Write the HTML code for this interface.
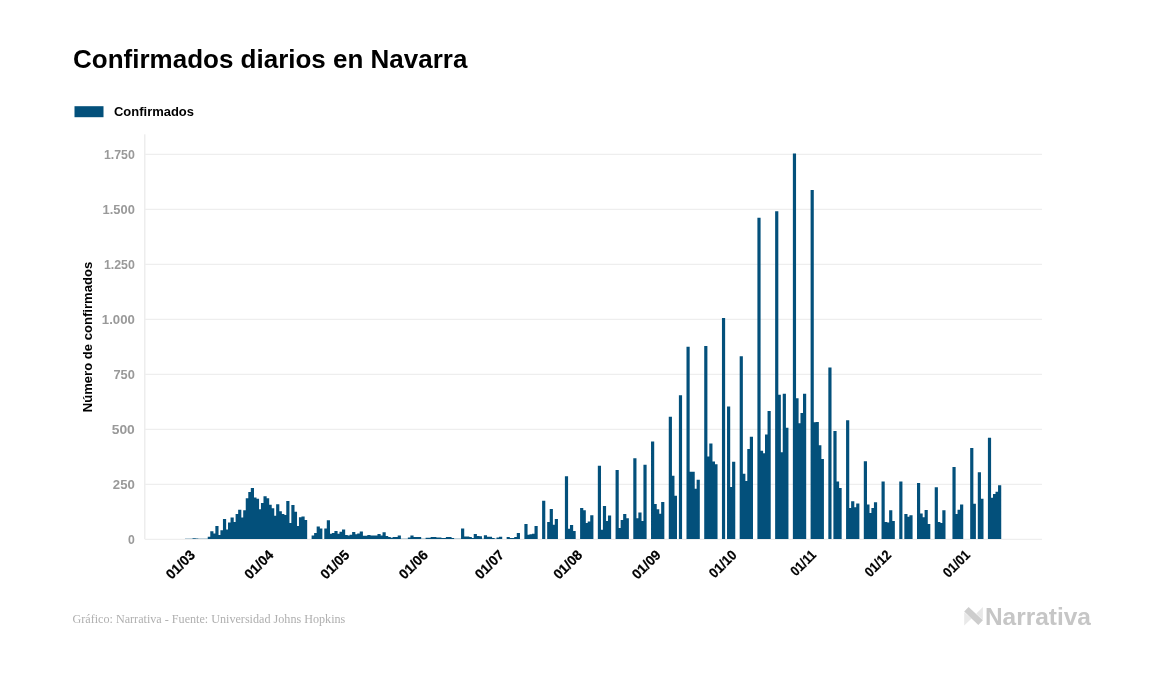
<!DOCTYPE html>
<html lang="es"><head><meta charset="utf-8"><title>Confirmados diarios en Navarra</title>
<style>
html,body{margin:0;padding:0;background:#fff;}
body{width:1157px;height:674px;overflow:hidden;position:relative;font-family:"Liberation Sans",sans-serif;}
svg{position:absolute;left:0;top:0;display:block}
.title{font:bold 26.5px "Liberation Sans",sans-serif;fill:#000;}
.leg{font:bold 12.6px "Liberation Sans",sans-serif;fill:#000;}
.yl{font:bold 12px "Liberation Sans",sans-serif;fill:#999;}
.xl{font:bold 13.8px "Liberation Sans",sans-serif;fill:#000;stroke:#000;stroke-width:0.22px;}
.yt{font:bold 12.4px "Liberation Sans",sans-serif;fill:#000;}
.foot{font:11.8px "Liberation Serif",serif;fill:#afafaf;}
.brand{font:bold 24.2px "Liberation Sans",sans-serif;fill:#c6c6c6;}
</style></head><body>
<svg width="1157" height="674" viewBox="0 0 1157 674">
<rect width="1157" height="674" fill="#fff"/>
<text class="title" x="73.1" y="67.7" textLength="394.3" lengthAdjust="spacingAndGlyphs">Confirmados diarios en Navarra</text>
<rect x="74.5" y="106.2" width="29" height="11" fill="#03507b"/>
<text class="leg" x="114" y="116.3" textLength="80" lengthAdjust="spacingAndGlyphs">Confirmados</text>
<rect x="144.2" y="134.3" width="1.2" height="405" fill="#e9e9e9"/>
<rect x="145" y="538.75" width="897" height="1.3" fill="#eeeeee"/><rect x="145" y="483.75" width="897" height="1.3" fill="#eeeeee"/><rect x="145" y="428.75" width="897" height="1.3" fill="#eeeeee"/><rect x="145" y="373.75" width="897" height="1.3" fill="#eeeeee"/><rect x="145" y="318.75" width="897" height="1.3" fill="#eeeeee"/><rect x="145" y="263.75" width="897" height="1.3" fill="#eeeeee"/><rect x="145" y="208.75" width="897" height="1.3" fill="#eeeeee"/><rect x="145" y="153.75" width="897" height="1.3" fill="#eeeeee"/>
<text x="134.8" y="543.95" text-anchor="end" class="yl" textLength="6.8" lengthAdjust="spacingAndGlyphs">0</text><text x="134.8" y="488.95" text-anchor="end" class="yl" textLength="22.0" lengthAdjust="spacingAndGlyphs">250</text><text x="134.8" y="433.95" text-anchor="end" class="yl" textLength="23.1" lengthAdjust="spacingAndGlyphs">500</text><text x="134.8" y="378.95" text-anchor="end" class="yl" textLength="21.4" lengthAdjust="spacingAndGlyphs">750</text><text x="134.8" y="323.95" text-anchor="end" class="yl" textLength="33.0" lengthAdjust="spacingAndGlyphs">1.000</text><text x="134.8" y="268.95" text-anchor="end" class="yl" textLength="30.9" lengthAdjust="spacingAndGlyphs">1.250</text><text x="134.8" y="213.95" text-anchor="end" class="yl" textLength="32.2" lengthAdjust="spacingAndGlyphs">1.500</text><text x="134.8" y="158.95" text-anchor="end" class="yl" textLength="30.9" lengthAdjust="spacingAndGlyphs">1.750</text>
<text class="yt" text-anchor="middle" transform="translate(92.3,337) rotate(-90)" textLength="150.5" lengthAdjust="spacingAndGlyphs">Número de confirmados</text>
<path fill="#03507b" d="M184.95 539.00V538.75h3.183V539.00zM187.49 539.00V538.75h3.183V539.00zM190.02 539.00V538.75h3.183V539.00zM192.55 539.00V538.20h3.183V539.00zM195.09 539.00V538.45h3.183V539.00zM197.62 539.00V538.75h3.183V539.00zM200.15 539.00V538.75h3.183V539.00zM202.68 539.00V538.75h3.183V539.00zM205.22 539.00V538.75h3.183V539.00zM207.75 539.00V536.80h3.183V539.00zM210.28 539.00V531.20h3.183V539.00zM212.82 539.00V533.40h3.183V539.00zM215.35 539.00V526.00h3.183V539.00zM217.88 539.00V535.10h3.183V539.00zM220.41 539.00V530.20h3.183V539.00zM222.95 539.00V519.00h3.183V539.00zM225.48 539.00V529.50h3.183V539.00zM228.01 539.00V522.60h3.183V539.00zM230.55 539.00V517.40h3.183V539.00zM233.08 539.00V522.10h3.183V539.00zM235.61 539.00V514.10h3.183V539.00zM238.15 539.00V509.80h3.183V539.00zM240.68 539.00V517.60h3.183V539.00zM243.21 539.00V510.30h3.183V539.00zM245.75 539.00V498.20h3.183V539.00zM248.28 539.00V491.90h3.183V539.00zM250.81 539.00V488.00h3.183V539.00zM253.34 539.00V497.50h3.183V539.00zM255.88 539.00V498.80h3.183V539.00zM258.41 539.00V509.20h3.183V539.00zM260.94 539.00V503.10h3.183V539.00zM263.48 539.00V496.20h3.183V539.00zM266.01 539.00V498.20h3.183V539.00zM268.54 539.00V504.70h3.183V539.00zM271.07 539.00V508.30h3.183V539.00zM273.61 539.00V515.70h3.183V539.00zM276.14 539.00V504.30h3.183V539.00zM278.67 539.00V511.20h3.183V539.00zM281.21 539.00V514.10h3.183V539.00zM283.74 539.00V515.00h3.183V539.00zM286.27 539.00V501.00h3.183V539.00zM288.81 539.00V523.00h3.183V539.00zM291.34 539.00V505.10h3.183V539.00zM293.87 539.00V511.80h3.183V539.00zM296.41 539.00V525.90h3.183V539.00zM298.94 539.00V517.20h3.183V539.00zM301.47 539.00V516.40h3.183V539.00zM304.00 539.00V520.00h3.183V539.00zM311.60 539.00V535.40h3.183V539.00zM314.14 539.00V533.00h3.183V539.00zM316.67 539.00V526.50h3.183V539.00zM319.20 539.00V528.50h3.183V539.00zM324.27 539.00V528.50h3.183V539.00zM326.80 539.00V520.20h3.183V539.00zM329.33 539.00V533.80h3.183V539.00zM331.87 539.00V533.00h3.183V539.00zM334.40 539.00V531.00h3.183V539.00zM336.93 539.00V533.80h3.183V539.00zM339.47 539.00V531.70h3.183V539.00zM342.00 539.00V529.50h3.183V539.00zM344.53 539.00V535.10h3.183V539.00zM347.06 539.00V535.40h3.183V539.00zM349.60 539.00V534.70h3.183V539.00zM352.13 539.00V532.10h3.183V539.00zM354.66 539.00V534.20h3.183V539.00zM357.20 539.00V533.40h3.183V539.00zM359.73 539.00V531.50h3.183V539.00zM362.26 539.00V535.70h3.183V539.00zM364.80 539.00V535.70h3.183V539.00zM367.33 539.00V535.10h3.183V539.00zM369.86 539.00V535.40h3.183V539.00zM372.39 539.00V535.40h3.183V539.00zM374.93 539.00V535.40h3.183V539.00zM377.46 539.00V534.00h3.183V539.00zM379.99 539.00V535.40h3.183V539.00zM382.53 539.00V532.30h3.183V539.00zM385.06 539.00V535.90h3.183V539.00zM387.59 539.00V537.10h3.183V539.00zM390.13 539.00V537.80h3.183V539.00zM392.66 539.00V537.10h3.183V539.00zM395.19 539.00V537.10h3.183V539.00zM397.72 539.00V535.40h3.183V539.00zM400.26 539.00V538.70h3.183V539.00zM402.79 539.00V538.70h3.183V539.00zM405.32 539.00V538.70h3.183V539.00zM407.86 539.00V537.50h3.183V539.00zM410.39 539.00V535.40h3.183V539.00zM412.92 539.00V537.10h3.183V539.00zM415.46 539.00V537.10h3.183V539.00zM417.99 539.00V537.10h3.183V539.00zM420.52 539.00V538.70h3.183V539.00zM423.06 539.00V538.70h3.183V539.00zM425.59 539.00V537.80h3.183V539.00zM428.12 539.00V537.80h3.183V539.00zM430.65 539.00V537.00h3.183V539.00zM433.19 539.00V537.00h3.183V539.00zM435.72 539.00V537.50h3.183V539.00zM438.25 539.00V537.50h3.183V539.00zM440.79 539.00V538.00h3.183V539.00zM443.32 539.00V538.00h3.183V539.00zM445.85 539.00V537.10h3.183V539.00zM448.38 539.00V537.10h3.183V539.00zM450.92 539.00V538.00h3.183V539.00zM453.45 539.00V538.80h3.183V539.00zM455.98 539.00V538.80h3.183V539.00zM458.52 539.00V538.80h3.183V539.00zM461.05 539.00V528.40h3.183V539.00zM463.58 539.00V536.40h3.183V539.00zM466.12 539.00V536.40h3.183V539.00zM468.65 539.00V537.00h3.183V539.00zM471.18 539.00V538.00h3.183V539.00zM473.71 539.00V534.00h3.183V539.00zM476.25 539.00V536.00h3.183V539.00zM478.78 539.00V536.30h3.183V539.00zM481.31 539.00V538.70h3.183V539.00zM483.85 539.00V535.30h3.183V539.00zM486.38 539.00V536.80h3.183V539.00zM488.91 539.00V536.80h3.183V539.00zM491.45 539.00V538.10h3.183V539.00zM493.98 539.00V538.80h3.183V539.00zM496.51 539.00V537.50h3.183V539.00zM499.05 539.00V536.80h3.183V539.00zM506.64 539.00V537.10h3.183V539.00zM509.18 539.00V538.10h3.183V539.00zM511.71 539.00V538.10h3.183V539.00zM514.24 539.00V537.10h3.183V539.00zM516.78 539.00V533.00h3.183V539.00zM524.38 539.00V523.90h3.183V539.00zM526.91 539.00V534.70h3.183V539.00zM529.44 539.00V534.20h3.183V539.00zM531.97 539.00V533.70h3.183V539.00zM534.51 539.00V525.90h3.183V539.00zM542.11 539.00V500.80h3.183V539.00zM547.17 539.00V522.00h3.183V539.00zM549.71 539.00V509.10h3.183V539.00zM552.24 539.00V524.70h3.183V539.00zM554.77 539.00V518.90h3.183V539.00zM564.90 539.00V476.30h3.183V539.00zM567.44 539.00V528.80h3.183V539.00zM569.97 539.00V525.10h3.183V539.00zM572.50 539.00V531.10h3.183V539.00zM580.10 539.00V508.00h3.183V539.00zM582.63 539.00V510.30h3.183V539.00zM585.17 539.00V523.00h3.183V539.00zM587.70 539.00V521.40h3.183V539.00zM590.23 539.00V515.20h3.183V539.00zM597.83 539.00V465.80h3.183V539.00zM600.37 539.00V529.70h3.183V539.00zM602.90 539.00V506.10h3.183V539.00zM605.43 539.00V520.90h3.183V539.00zM607.96 539.00V515.50h3.183V539.00zM615.56 539.00V470.10h3.183V539.00zM618.10 539.00V528.10h3.183V539.00zM620.63 539.00V520.00h3.183V539.00zM623.16 539.00V514.10h3.183V539.00zM625.70 539.00V518.30h3.183V539.00zM633.29 539.00V458.30h3.183V539.00zM635.83 539.00V518.30h3.183V539.00zM638.36 539.00V512.40h3.183V539.00zM640.89 539.00V521.10h3.183V539.00zM643.43 539.00V464.70h3.183V539.00zM651.03 539.00V441.50h3.183V539.00zM653.56 539.00V504.00h3.183V539.00zM656.09 539.00V509.20h3.183V539.00zM658.62 539.00V513.80h3.183V539.00zM661.16 539.00V502.00h3.183V539.00zM668.76 539.00V416.80h3.183V539.00zM671.29 539.00V475.70h3.183V539.00zM673.82 539.00V495.70h3.183V539.00zM678.89 539.00V395.20h3.183V539.00zM686.49 539.00V346.80h3.183V539.00zM689.02 539.00V471.80h3.183V539.00zM691.55 539.00V471.80h3.183V539.00zM694.09 539.00V488.70h3.183V539.00zM696.62 539.00V479.80h3.183V539.00zM704.22 539.00V346.05h3.183V539.00zM706.75 539.00V456.40h3.183V539.00zM709.28 539.00V443.50h3.183V539.00zM711.82 539.00V461.40h3.183V539.00zM714.35 539.00V464.20h3.183V539.00zM721.95 539.00V317.90h3.183V539.00zM727.02 539.00V406.40h3.183V539.00zM729.55 539.00V487.10h3.183V539.00zM732.08 539.00V461.70h3.183V539.00zM739.68 539.00V356.20h3.183V539.00zM742.21 539.00V473.80h3.183V539.00zM744.75 539.00V480.90h3.183V539.00zM747.28 539.00V449.00h3.183V539.00zM749.81 539.00V436.70h3.183V539.00zM757.41 539.00V217.70h3.183V539.00zM759.94 539.00V450.80h3.183V539.00zM762.48 539.00V453.20h3.183V539.00zM765.01 539.00V434.60h3.183V539.00zM767.54 539.00V410.90h3.183V539.00zM775.14 539.00V211.20h3.183V539.00zM777.67 539.00V394.80h3.183V539.00zM780.21 539.00V452.20h3.183V539.00zM782.74 539.00V393.70h3.183V539.00zM785.27 539.00V427.80h3.183V539.00zM792.87 539.00V153.40h3.183V539.00zM795.41 539.00V398.20h3.183V539.00zM797.94 539.00V423.30h3.183V539.00zM800.47 539.00V413.10h3.183V539.00zM803.01 539.00V393.70h3.183V539.00zM810.60 539.00V190.10h3.183V539.00zM813.14 539.00V422.30h3.183V539.00zM815.67 539.00V422.10h3.183V539.00zM818.20 539.00V445.30h3.183V539.00zM820.74 539.00V458.90h3.183V539.00zM828.34 539.00V367.60h3.183V539.00zM833.40 539.00V431.00h3.183V539.00zM835.93 539.00V481.40h3.183V539.00zM838.47 539.00V488.10h3.183V539.00zM846.07 539.00V420.30h3.183V539.00zM848.60 539.00V507.90h3.183V539.00zM851.13 539.00V501.30h3.183V539.00zM853.66 539.00V507.20h3.183V539.00zM856.20 539.00V503.40h3.183V539.00zM863.80 539.00V461.30h3.183V539.00zM866.33 539.00V504.50h3.183V539.00zM868.86 539.00V513.10h3.183V539.00zM871.40 539.00V507.90h3.183V539.00zM873.93 539.00V502.20h3.183V539.00zM881.53 539.00V481.40h3.183V539.00zM884.06 539.00V521.90h3.183V539.00zM886.59 539.00V522.60h3.183V539.00zM889.13 539.00V510.30h3.183V539.00zM891.66 539.00V521.10h3.183V539.00zM899.26 539.00V481.40h3.183V539.00zM904.33 539.00V514.10h3.183V539.00zM906.86 539.00V516.70h3.183V539.00zM909.39 539.00V515.20h3.183V539.00zM916.99 539.00V483.00h3.183V539.00zM919.52 539.00V513.50h3.183V539.00zM922.06 539.00V517.20h3.183V539.00zM924.59 539.00V509.90h3.183V539.00zM927.12 539.00V524.00h3.183V539.00zM934.72 539.00V487.30h3.183V539.00zM937.25 539.00V521.90h3.183V539.00zM939.79 539.00V523.00h3.183V539.00zM942.32 539.00V510.20h3.183V539.00zM952.45 539.00V467.10h3.183V539.00zM954.99 539.00V514.10h3.183V539.00zM957.52 539.00V509.80h3.183V539.00zM960.05 539.00V504.50h3.183V539.00zM970.18 539.00V447.90h3.183V539.00zM972.72 539.00V503.70h3.183V539.00zM977.78 539.00V472.30h3.183V539.00zM980.32 539.00V498.80h3.183V539.00zM987.91 539.00V437.80h3.183V539.00zM990.45 539.00V497.70h3.183V539.00zM992.98 539.00V494.10h3.183V539.00zM995.51 539.00V491.70h3.183V539.00zM998.05 539.00V485.30h3.183V539.00z"/>
<text class="xl" text-anchor="end" transform="translate(195.9,555.8) rotate(-45)" textLength="34.4" lengthAdjust="spacingAndGlyphs">01/03</text><text class="xl" text-anchor="end" transform="translate(274.3,555.8) rotate(-45)" textLength="34.4" lengthAdjust="spacingAndGlyphs">01/04</text><text class="xl" text-anchor="end" transform="translate(350.4,555.8) rotate(-45)" textLength="34.4" lengthAdjust="spacingAndGlyphs">01/05</text><text class="xl" text-anchor="end" transform="translate(428.9,555.8) rotate(-45)" textLength="34.4" lengthAdjust="spacingAndGlyphs">01/06</text><text class="xl" text-anchor="end" transform="translate(504.8,555.8) rotate(-45)" textLength="34.4" lengthAdjust="spacingAndGlyphs">01/07</text><text class="xl" text-anchor="end" transform="translate(583.2,555.8) rotate(-45)" textLength="34.4" lengthAdjust="spacingAndGlyphs">01/08</text><text class="xl" text-anchor="end" transform="translate(661.7,555.8) rotate(-45)" textLength="34.4" lengthAdjust="spacingAndGlyphs">01/09</text><text class="xl" text-anchor="end" transform="translate(737.6,555.8) rotate(-45)" textLength="32.6" lengthAdjust="spacingAndGlyphs">01/10</text><text class="xl" text-anchor="end" transform="translate(816.9,555.8) rotate(-45)" textLength="29.5" lengthAdjust="spacingAndGlyphs">01/11</text><text class="xl" text-anchor="end" transform="translate(892.0,555.8) rotate(-45)" textLength="30.9" lengthAdjust="spacingAndGlyphs">01/12</text><text class="xl" text-anchor="end" transform="translate(970.9,555.8) rotate(-45)" textLength="31.6" lengthAdjust="spacingAndGlyphs">01/01</text>
<text class="foot" x="72.5" y="622.8" textLength="272.8" lengthAdjust="spacingAndGlyphs">Gráfico: Narrativa - Fuente: Universidad Johns Hopkins</text>
<g>
<polygon points="964.2,612.2 971.6,618.6 964.2,625.6" fill="#e9e9e9"/>
<polygon points="982.9,607.0 982.9,620.0 976.3,613.4" fill="#e7e7e7"/>
<polygon points="968.6,607.0 982.9,620.3 978.3,625.1 964.2,611.6" fill="#cdcdcd"/>
</g>
<text class="brand" x="984.9" y="625.2" textLength="106" lengthAdjust="spacingAndGlyphs">Narrativa</text>
</svg>
</body></html>
